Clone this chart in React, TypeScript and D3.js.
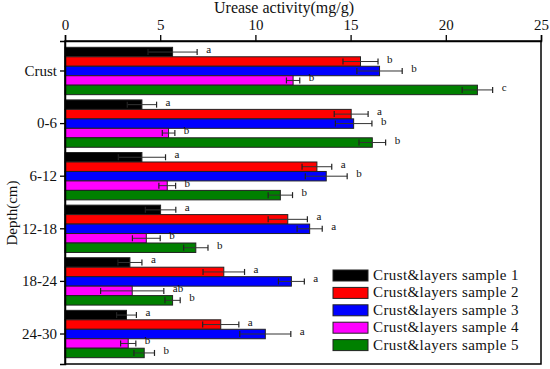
import { useRef, useEffect } from 'react'
import * as d3 from 'd3'

const categories = ['Crust', '0-6', '6-12', '12-18', '18-24', '24-30']
const seriesNames = [
  'Crust&layers sample 1',
  'Crust&layers sample 2',
  'Crust&layers sample 3',
  'Crust&layers sample 4',
  'Crust&layers sample 5',
]
const colors = ['#000000', '#ff0000', '#0000ff', '#ff00ff', '#008000']

const sample1 = [5.65, 4.04, 4.04, 5.02, 3.41, 3.23]
const sample2 = [15.52, 15.03, 13.23, 11.7, 8.34, 8.18]
const sample3 = [16.52, 15.16, 13.72, 12.85, 11.89, 10.52]
const sample4 = [11.98, 5.44, 5.37, 4.27, 3.53, 3.32]
const sample5 = [21.66, 16.14, 11.31, 6.87, 5.65, 4.16]

const err1 = [1.29, 0.77, 1.24, 0.8, 0.63, 0.52]
const err2 = [0.92, 0.89, 0.78, 1.03, 1.09, 0.95]
const err3 = [1.19, 0.96, 1.1, 0.66, 0.68, 1.34]
const err4 = [0.35, 0.33, 0.44, 0.73, 1.66, 0.4]
const err5 = [0.8, 0.7, 0.64, 0.64, 0.4, 0.54]

const sig1 = ['a', 'a', 'a', 'a', 'a', 'a']
const sig2 = ['b', 'a', 'a', 'a', 'a', 'a']
const sig3 = ['b', 'b', 'b', 'a', 'a', 'a']
const sig4 = ['b', 'b', 'b', 'b', 'ab', 'b']
const sig5 = ['c', 'b', 'b', 'b', 'b', 'b']

const xTicks = [0, 5, 10, 15, 20, 25]

const values = [sample1, sample2, sample3, sample4, sample5]
const errors = [err1, err2, err3, err4, err5]
const letters = [sig1, sig2, sig3, sig4, sig5]

const font = '"Liberation Serif", "Times New Roman", serif'

export default function App() {
  const ref = useRef(null)
  const width = 550
  const height = 369
  const margin = { top: 41, right: 9, bottom: 5, left: 65 }

  useEffect(() => {
    const svg = d3.select(ref.current)
    svg.selectAll('*').remove()

    const x = d3
      .scaleLinear()
      .domain([0, 25])
      .range([margin.left, width - margin.right])
    const y = d3
      .scaleBand()
      .domain(categories)
      .range([margin.top, height - margin.bottom])
      .paddingInner(0.1)
      .paddingOuter(0.12)
    const ys = d3.scaleBand().domain(d3.range(5).map(String)).range([0, y.bandwidth()])

    const rows = []
    categories.forEach((c, ci) => {
      values.forEach((vals, si) => {
        rows.push({ cat: c, s: si, v: vals[ci], e: errors[si][ci], l: letters[si][ci] })
      })
    })

    const g = svg.append('g')

    // bars
    g.selectAll('.bar')
      .data(rows)
      .enter()
      .append('rect')
      .attr('x', x(0))
      .attr('y', (d) => y(d.cat) + ys(String(d.s)))
      .attr('width', (d) => x(d.v) - x(0))
      .attr('height', ys.bandwidth())
      .attr('fill', (d) => colors[d.s])
      .attr('stroke', '#222')
      .attr('stroke-width', 1)

    // error bars
    const eb = g
      .selectAll('.err')
      .data(rows)
      .enter()
      .append('g')
      .attr('transform', (d) => `translate(0,${y(d.cat) + ys(String(d.s)) + ys.bandwidth() / 2})`)
    eb.append('line')
      .attr('x1', (d) => x(d.v - d.e))
      .attr('x2', (d) => x(d.v + d.e))
      .attr('stroke', '#333')
      .attr('stroke-width', 1)
    eb.append('line')
      .attr('x1', (d) => x(d.v - d.e))
      .attr('x2', (d) => x(d.v - d.e))
      .attr('y1', -3)
      .attr('y2', 3)
      .attr('stroke', '#222')
      .attr('stroke-width', 1.2)
    eb.append('line')
      .attr('x1', (d) => x(d.v + d.e))
      .attr('x2', (d) => x(d.v + d.e))
      .attr('y1', -3)
      .attr('y2', 3)
      .attr('stroke', '#222')
      .attr('stroke-width', 1.2)
    eb.append('text')
      .attr('x', (d) => x(d.v + d.e) + 9)
      .attr('y', 1)
      .attr('font-family', font)
      .attr('font-size', 11)
      .attr('fill', '#111')
      .text((d) => d.l)

    // frame
    svg
      .append('rect')
      .attr('x', margin.left)
      .attr('y', margin.top)
      .attr('width', width - margin.right - margin.left)
      .attr('height', height - margin.bottom - margin.top)
      .attr('fill', 'none')
      .attr('stroke', '#000')
      .attr('stroke-width', 1.5)

    // top axis
    const xAxis = d3.axisTop(x).tickValues(xTicks).tickSize(6).tickPadding(5).tickFormat(d3.format('d'))
    const xg = svg.append('g').attr('transform', `translate(0,${margin.top})`).call(xAxis)
    xg.select('.domain').attr('stroke-width', 1.5)
    xg.selectAll('.tick line').attr('stroke-width', 1.3)
    xg.selectAll('text').attr('font-family', font).attr('font-size', 15).attr('fill', '#111')

    // left axis
    const yAxis = d3.axisLeft(y).tickSize(5).tickPadding(3)
    const yg = svg.append('g').attr('transform', `translate(${margin.left},0)`).call(yAxis)
    yg.select('.domain').attr('stroke-width', 1.5)
    yg.selectAll('.tick line').attr('stroke-width', 1.3)
    yg.selectAll('text').attr('font-family', font).attr('font-size', 15).attr('fill', '#111')

    // titles
    svg
      .append('text')
      .attr('x', 284)
      .attr('y', 13)
      .attr('text-anchor', 'middle')
      .attr('font-family', font)
      .attr('font-size', 16)
      .attr('fill', '#111')
      .text('Urease activity(mg/g)')
    svg
      .append('text')
      .attr('transform', 'translate(17,213) rotate(-90)')
      .attr('text-anchor', 'middle')
      .attr('font-family', font)
      .attr('font-size', 15)
      .attr('fill', '#111')
      .text('Depth(cm)')

    // legend
    const lg = svg.append('g').attr('transform', 'translate(333,270)')
    const item = lg
      .selectAll('.item')
      .data(seriesNames)
      .enter()
      .append('g')
      .attr('transform', (d, i) => `translate(0,${i * 17.4})`)
    item
      .append('rect')
      .attr('width', 35)
      .attr('height', 11)
      .attr('fill', (d, i) => colors[i])
      .attr('stroke', '#222')
    item
      .append('text')
      .attr('x', 40)
      .attr('y', 10)
      .attr('font-family', font)
      .attr('font-size', 15)
      .attr('letter-spacing', 0.4)
      .attr('fill', '#111')
      .text((d) => d)
  }, [])

  return (
    <div>
      <svg ref={ref} width={width} height={height} style={{ position: 'absolute', left: 0, top: 0, background: '#fff' }} />
    </div>
  )
}
